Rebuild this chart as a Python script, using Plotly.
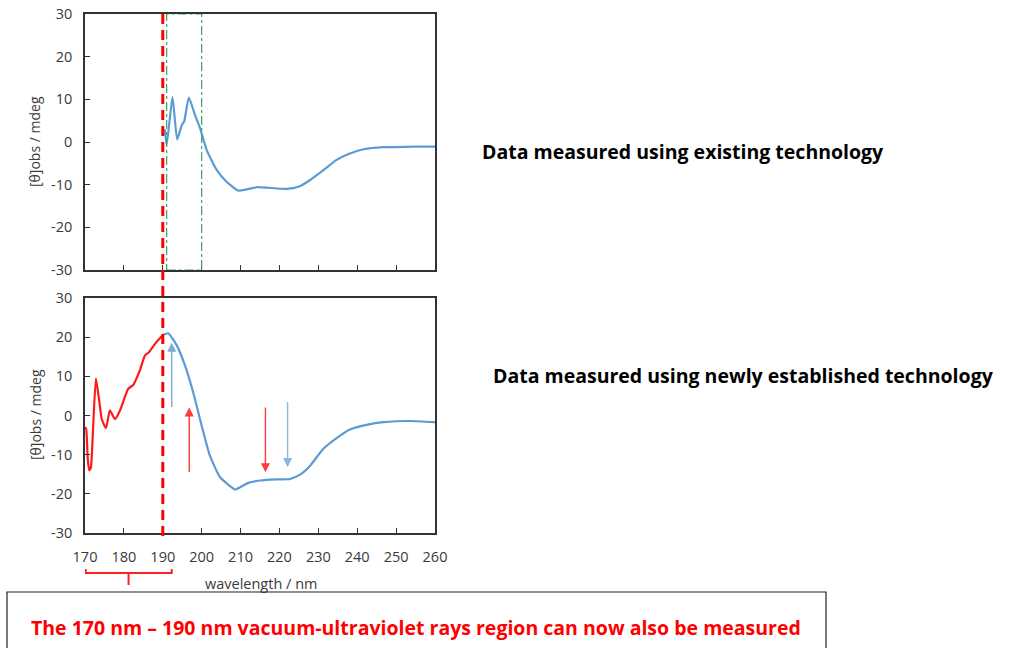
import plotly.graph_objects as go

# ---------------- data ----------------
# Existing technology (top panel)
top_wl = [190.5, 191.0, 192.5, 193.7, 194.9, 195.5, 196.7, 198.3, 199.6, 201.3, 203.9,
          206.4, 209.4, 211.6, 214.1, 216.7, 221.9, 224.9, 227.9, 231.3, 234.7, 238.1,
          241.6, 246.7, 249.5, 255.0, 260.0]
top_val = [3.0, -0.7, 10.5, 0.6, 4.0, 4.8, 10.4, 6.3, 3.2, -1.9, -6.6,
           -9.3, -11.4, -11.1, -10.6, -10.7, -11.0, -10.5, -8.9, -6.6, -4.2, -2.7,
           -1.7, -1.2, -1.2, -1.1, -1.1]

# Newly established technology (bottom panel), vacuum-UV part (red)
vuv_wl = [170.0, 170.3, 170.7, 171.1, 171.5, 172.0, 172.8, 173.7, 174.3, 175.4, 176.4,
          177.7, 179.0, 181.1, 182.4, 184.1, 185.4, 186.5, 188.0, 190.1]
vuv_val = [-3.0, -3.4, -11.0, -14.0, -13.4, -5.0, 9.5, 3.4, -0.9, -3.2, 1.3,
           -0.9, 1.3, 6.8, 7.8, 11.5, 15.3, 16.2, 18.3, 20.6]

# Newly established technology, remaining part (blue)
bot_wl = [190.1, 191.4, 193.6, 195.7, 197.8, 200.0, 202.1, 204.7, 208.6, 209.9, 212.0,
          215.0, 219.3, 222.7, 225.3, 227.9, 231.3, 234.7, 238.1, 242.4, 246.7, 253.6, 260.0]
bot_val = [20.6, 21.0, 17.9, 12.8, 6.0, -2.6, -10.2, -15.7, -18.9, -18.3, -17.2,
           -16.6, -16.3, -16.2, -15.1, -12.8, -8.5, -5.8, -3.6, -2.4, -1.7, -1.4, -1.7]

x_ticks = [170, 180, 190, 200, 210, 220, 230, 240, 250, 260]
y_ticks = [-30, -20, -10, 0, 10, 20, 30]
y_tick_text = ["-30", "-20", "-10", "0", "10", "20", "30"]

# arrows: (wavelength, tail value, head value, colour)
arrows = [
    (192.3, 1.8, 18.6, "#7fa9d8"),
    (196.8, -14.8, 2.1, "#ff3b3b"),
    (216.4, 2.4, -14.5, "#ff3b3b"),
    (222.1, 3.8, -13.2, "#8fb4de"),
]

W, H = 1012, 648
FONT = "Open Sans, Liberation Sans, Arial, sans-serif"
BLUE = "#5b9bd5"
RED = "#ff1a1a"
AX = "#333333"
TICKC = "#3a3a3a"


def px(x):
    return x / W


def py(y):
    return 1 - y / H


line_style = dict(width=2.2, shape="spline", smoothing=0.5)

fig = go.Figure()
fig.add_trace(go.Scatter(x=top_wl, y=top_val, mode="lines", line=dict(color=BLUE, **line_style),
                         xaxis="x", yaxis="y", showlegend=False, hoverinfo="skip"))
fig.add_trace(go.Scatter(x=vuv_wl, y=vuv_val, mode="lines", line=dict(color=RED, **line_style),
                         xaxis="x2", yaxis="y2", showlegend=False, hoverinfo="skip"))
fig.add_trace(go.Scatter(x=bot_wl, y=bot_val, mode="lines", line=dict(color=BLUE, **line_style),
                         xaxis="x2", yaxis="y2", showlegend=False, hoverinfo="skip"))

axis_common = dict(showline=True, linecolor=AX, linewidth=1.6, mirror=True,
                   ticks="inside", ticklen=5, tickcolor=AX, tickwidth=1,
                   showgrid=False, zeroline=False, automargin=False,
                   tickfont=dict(family=FONT, size=14.5, color=TICKC))

fig.update_layout(
    width=W, height=H,
    margin=dict(l=0, r=0, t=0, b=0, autoexpand=False),
    paper_bgcolor="white", plot_bgcolor="white",
    xaxis=dict(domain=[px(85), px(435)], range=[170, 260], tickvals=x_ticks,
               showticklabels=False, anchor="y", **axis_common),
    yaxis=dict(domain=[py(270), py(14)], range=[-30, 30], tickvals=y_ticks, ticktext=y_tick_text,
               anchor="x", ticklabelstandoff=8, **axis_common),
    xaxis2=dict(domain=[px(85), px(435)], range=[170, 260], tickvals=x_ticks,
                anchor="y2", ticklabelstandoff=10, **axis_common),
    yaxis2=dict(domain=[py(533), py(298)], range=[-30, 30], tickvals=y_ticks, ticktext=y_tick_text,
                anchor="x2", ticklabelstandoff=8, **axis_common),
)

shapes = []
# green dash-dot box in top panel
shapes.append(dict(type="rect", xref="x", yref="y", x0=191, x1=200, y0=-30, y1=30,
                   line=dict(color="#3aa55a", width=1.2, dash="dashdot")))
# red dashed line at 190 nm
shapes.append(dict(type="line", xref="x", yref="paper", x0=190, x1=190,
                   y0=py(14), y1=py(541), line=dict(color="#ff0000", width=3, dash="10px,6px")))
# red bracket under 170-190 nm
shapes.append(dict(type="path", xref="x2", yref="paper",
                   path=f"M 170.2,{py(569)} L 170.2,{py(573)} L 192.3,{py(573)} L 192.3,{py(569)}",
                   line=dict(color="#ff2020", width=2)))
shapes.append(dict(type="line", xref="x2", yref="paper", x0=181.2, x1=181.2,
                   y0=py(573), y1=py(585), line=dict(color="#ff2020", width=2)))
# bottom text box
shapes.append(dict(type="rect", xref="paper", yref="paper", x0=px(7), x1=px(826),
                   y0=-0.05, y1=py(592), line=dict(color="#222222", width=1.2),
                   fillcolor="rgba(0,0,0,0)"))
fig.update_layout(shapes=shapes)

ann = []
for wl, tail, head, col in arrows:
    ann.append(dict(x=wl, y=head, ax=wl, ay=tail, xref="x2", yref="y2", axref="x2", ayref="y2",
                    text="", showarrow=True, arrowhead=2, arrowsize=1.3, arrowwidth=1.4,
                    arrowcolor=col))

for yc in (142, 415):
    ann.append(dict(x=px(35), y=py(yc), xref="paper", yref="paper", text="[θ]obs / mdeg",
                    textangle=-90, showarrow=False, xanchor="center", yanchor="middle",
                    font=dict(family=FONT, size=14, color=TICKC)))

ann.append(dict(x=px(261), y=py(583), xref="paper", yref="paper", text="wavelength / nm",
                showarrow=False, xanchor="center", yanchor="middle",
                font=dict(family=FONT, size=14.5, color=TICKC)))

ann.append(dict(x=px(683), y=py(152), xref="paper", yref="paper",
                text="<b>Data measured using existing technology</b>", showarrow=False,
                xanchor="center", yanchor="middle",
                font=dict(family=FONT, size=19.5, color="black")))
ann.append(dict(x=px(743), y=py(375), xref="paper", yref="paper",
                text="<b>Data measured using newly established technology</b>", showarrow=False,
                xanchor="center", yanchor="middle",
                font=dict(family=FONT, size=19.5, color="black")))
ann.append(dict(x=px(416), y=py(627), xref="paper", yref="paper",
                text="<b>The 170 nm – 190 nm vacuum-ultraviolet rays region can now also be measured</b>",
                showarrow=False, xanchor="center", yanchor="middle",
                font=dict(family=FONT, size=19.5, color="#ff0000")))
fig.update_layout(annotations=ann)

fig.write_html("out.html", config={"displayModeBar": False},
               post_script="document.body.style.margin='0';document.body.style.padding='0';")
